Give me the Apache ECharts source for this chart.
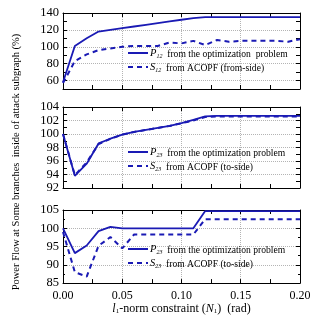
<!DOCTYPE html>
<html><head><meta charset="utf-8">
<script src="https://cdn.jsdelivr.net/npm/echarts@6/dist/echarts.min.js"></script>
<style>html,body{margin:0;padding:0;background:#fff}#c{width:316px;height:316px}</style>
</head><body><div id="c"></div>
<script>
const xs = [0,0.01,0.02,0.03,0.04,0.05,0.06,0.07,0.08,0.09,0.10,0.11,0.12,0.13,0.14,0.15,0.16,0.17,0.18,0.19,0.20];
const p12 = [58,101,110,118,120,122,124,126,128,130,132,134,135,135,135,135,135,135,135,135,135];
const s12 = [57,83,91,96,98,100,101,101,101,105,104,107,102,108,106,107,107,107,107,106,109];
const p23a = [100,93.8,95.6,98.6,99.3,99.9,100.3,100.6,100.9,101.2,101.6,102.1,102.6,102.7,102.7,102.7,102.7,102.7,102.7,102.7,102.7];
const s23a = [100,93.9,95.8,98.5,99.3,99.9,100.3,100.6,100.9,101.2,101.6,102.0,102.5,102.6,102.6,102.6,102.6,102.6,102.6,102.6,102.6];
const p23b = [100,93.2,95.3,99.2,100.4,100,100,100,100,100,100,100,104.7,104.7,104.7,104.7,104.7,104.7,104.7,104.7,104.7];
const s23b = [99,88,86.8,95.2,97.6,94.5,98.3,98.3,98.3,98.3,98.3,98.3,102.5,102.5,102.5,102.5,102.5,102.5,102.5,102.5,102.5];
const xTickLabels = ['0.00','0.05','0.10','0.15','0.20'];
const yLabels1 = [60,80,100,120,140];
const yLabels2 = [92,94,96,98,100,102,104];
const yLabels3 = [85,90,95,100,105];
const legendNames = {
  P12: '{i|P}{s|12}{t|  from the optimization  problem}',
  S12: '{i|S}{s|12}{t|  from ACOPF (from-side)}',
  P23a: '{i|P}{s|23}{t|  from the optimization problem}',
  S23a: '{i|S}{s|23}{t|  from ACOPF (to-side)}',
  P23b: '{i|P}{s|23}{t|  from the optimization problem}',
  S23b: '{i|S}{s|23}{t|  from ACOPF (to-side)}'
};

const FONT = 'Liberation Serif';
const BLUE = '#1a1ab4';
const GRID_C = '#b4b4b4';
const grids = [
  {left:63, right:16, top:13, height:76},
  {left:63, right:16, top:107, height:81},
  {left:63, right:16, top:210, height:74}
];
const xLabelFmt = v => { const k = Math.round(v*1000); return (k % 50 === 0) ? xTickLabels[k/50] : ''; };

function xAx(gi, pos, showLabel) {
  const main = pos === 'bottom';
  const o = {
    type:'value', gridIndex:gi, position:pos, min:0, max:0.2, interval:0.025,
    axisLine:{show:true, onZero:false, lineStyle:{color:'#000', width:1}},
    axisTick:{show:true, inside:true, length:4, lineStyle:{color:'#000'}},
    axisLabel:{show:showLabel, formatter:xLabelFmt, fontFamily:FONT, fontSize:12, color:'#000', margin:7},
    splitLine:{show:main, lineStyle:{type:'dotted', color:[GRID_C,'transparent']}}
  };
  if (showLabel) {
    o.name = '{i|l}{s|1}{t|-norm constraint (}{i|N}{s|1}{t|)  (rad)}';
    o.nameLocation = 'middle';
    o.nameGap = 16;
    o.nameTextStyle = {fontFamily:FONT, color:'#000', rich:{
      i:{fontFamily:FONT, fontStyle:'italic', fontSize:12, color:'#000', lineHeight:12, verticalAlign:'bottom'},
      s:{fontFamily:FONT, fontSize:7, color:'#000', lineHeight:6, verticalAlign:'bottom'},
      t:{fontFamily:FONT, fontSize:12, color:'#000', lineHeight:12, verticalAlign:'bottom'}
    }};
  }
  return o;
}
function yAx(gi, pos, min, max, interval, fmt, colors, minor) {
  const main = pos === 'left';
  return {
    type:'value', gridIndex:gi, position:pos, min:min, max:max, interval:interval,
    axisLine:{show:true, onZero:false, lineStyle:{color:'#000', width:1}},
    axisTick:{show:true, inside:true, length:4, lineStyle:{color:'#000'}},
    minorTick:{show:!!minor, splitNumber:2, length:2, lineStyle:{color:'#000'}},
    axisLabel:{show:main, formatter:fmt, fontFamily:FONT, fontSize:12.5, color:'#000', margin:4},
    splitLine:{show:main, lineStyle:{type:'dotted', color:colors}}
  };
}
const fmt1 = v => yLabels1.indexOf(v) >= 0 ? String(v) : '';
const fmt2 = v => yLabels2.indexOf(v) >= 0 ? String(v) : '';
const fmt3 = v => yLabels3.indexOf(v) >= 0 ? String(v) : '';

const xAxis = [
  xAx(0,'bottom',false), xAx(1,'bottom',false), xAx(2,'bottom',true),
  xAx(0,'top',false), xAx(1,'top',false), xAx(2,'top',false)
];
const yAxis = [
  yAx(0,'left',50,140,10,fmt1,['transparent',GRID_C]),
  yAx(1,'left',92,104,1,fmt2,[GRID_C,'transparent']),
  yAx(2,'left',85,105,5,fmt3,[GRID_C],true),
  yAx(0,'right',50,140,10,fmt1,[GRID_C]),
  yAx(1,'right',92,104,1,fmt2,[GRID_C]),
  yAx(2,'right',85,105,5,fmt3,[GRID_C],true)
];
function mk(name, vals, gi, dashed) {
  return {
    name:name, type:'line', xAxisIndex:gi, yAxisIndex:gi, symbol:'none', silent:true,
    data: xs.map((x,i)=>[x, vals[i]]),
    lineStyle:{color:BLUE, width: dashed ? 2 : 1.8, type: dashed ? [5,4] : 'solid'},
    itemStyle:{color:BLUE}
  };
}
const series = [
  mk('P12',p12,0,false), mk('S12',s12,0,true),
  mk('P23a',p23a,1,false), mk('S23a',s23a,1,true),
  mk('P23b',p23b,2,false), mk('S23b',s23b,2,true)
];
const rich = {
  i:{fontFamily:FONT, fontStyle:'italic', fontSize:10.5, color:'#000', lineHeight:12, verticalAlign:'bottom'},
  s:{fontFamily:FONT, fontStyle:'italic', fontSize:6, color:'#000', lineHeight:6, verticalAlign:'bottom'},
  t:{fontFamily:FONT, fontSize:9.6, color:'#000', lineHeight:12, verticalAlign:'bottom'}
};
function lg(names, top) {
  return {
    data:names, orient:'vertical', left:127, top:top, itemWidth:20, itemHeight:10, itemGap:3,
    padding:0, selectedMode:false, formatter: n => legendNames[n],
    itemStyle:{opacity:0},
    textStyle:{fontFamily:FONT, color:'#000', rich:rich, padding:[0,0,0,-3]}
  };
}
const chart = echarts.init(document.getElementById('c'), null, {renderer:'canvas'});
chart.setOption({
  animation:false,
  backgroundColor:'#fff',
  grid:grids,
  xAxis:xAxis,
  yAxis:yAxis,
  legend:[lg(['P12','S12'],48), lg(['P23a','S23a'],147), lg(['P23b','S23b'],244)],
  graphic:[{
    type:'text', x:16, y:162, rotation:Math.PI/2,
    style:{text:'Power Flow at Some branches  inside of attack subgraph (%)', font:'10.5px "Liberation Serif"', fill:'#000', align:'center', verticalAlign:'middle'}
  }],
  series:series
});
</script></body></html>
